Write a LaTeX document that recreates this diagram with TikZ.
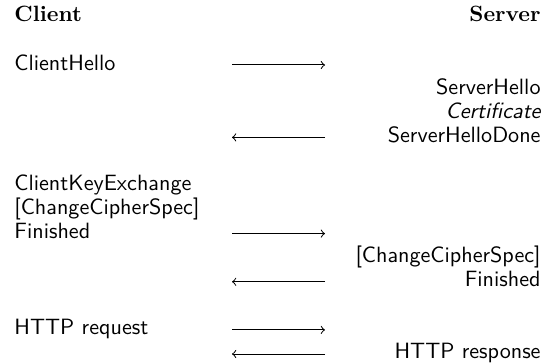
\documentclass[tikz,border=0pt]{standalone}
\usepackage{tikz}
\begin{document}
\begin{tikzpicture}[x=0.452pt,y=-0.452pt,
		cli/.style={anchor=base west,inner sep=0pt,font=\sffamily},
		srv/.style={anchor=base east,inner sep=0pt,font=\sffamily},
		msg/.style={->,line width=0.45pt}]
		%%%%% START %%%%%
		
		\useasboundingbox (0,0) rectangle (552,364);
		
		\node[anchor=base west,inner sep=0pt,font=\bfseries] (client) at (14,22) {Client};
		\node[anchor=base east,inner sep=0pt,font=\bfseries] (server) at (541,22) {Server};
		
		\node[cli] (hello) at (14,70.1) {ClientHello};
		\coordinate (h1) at (232,65);
		\coordinate (h2) at (325,65);
		\draw[msg] (h1) -- (h2);
		
		\node[srv] (shello) at (541,94.2) {ServerHello};
		\node[srv] (cert) at (541,118.3) {\itshape Certificate};
		\node[srv] (sdone) at (541,142.4) {ServerHelloDone};
		\coordinate (d1) at (325,137.4);
		\coordinate (d2) at (232,137.4);
		\draw[msg] (d1) -- (d2);
		
		\node[cli] (ckex) at (14,190.5) {ClientKeyExchange};
		\node[cli] (cccs) at (14,214.6) {[ChangeCipherSpec]};
		\node[cli] (cfin) at (14,238.6) {Finished};
		\coordinate (f1) at (232,233.6);
		\coordinate (f2) at (325,233.6);
		\draw[msg] (f1) -- (f2);
		
		\node[srv] (sccs) at (541,262.7) {[ChangeCipherSpec]};
		\node[srv] (sfin) at (541,286.8) {Finished};
		\coordinate (g1) at (325,281.8);
		\coordinate (g2) at (232,281.8);
		\draw[msg] (g1) -- (g2);
		
		\node[cli] (req) at (14,334.9) {HTTP request};
		\coordinate (r1) at (232,329.9);
		\coordinate (r2) at (325,329.9);
		\draw[msg] (r1) -- (r2);
		
		\node[srv] (resp) at (541,359) {HTTP response};
		\coordinate (p1) at (325,354);
		\coordinate (p2) at (232,354);
		\draw[msg] (p1) -- (p2);
		
		%%%%% END %%%%%
	\end{tikzpicture}
\end{document}
